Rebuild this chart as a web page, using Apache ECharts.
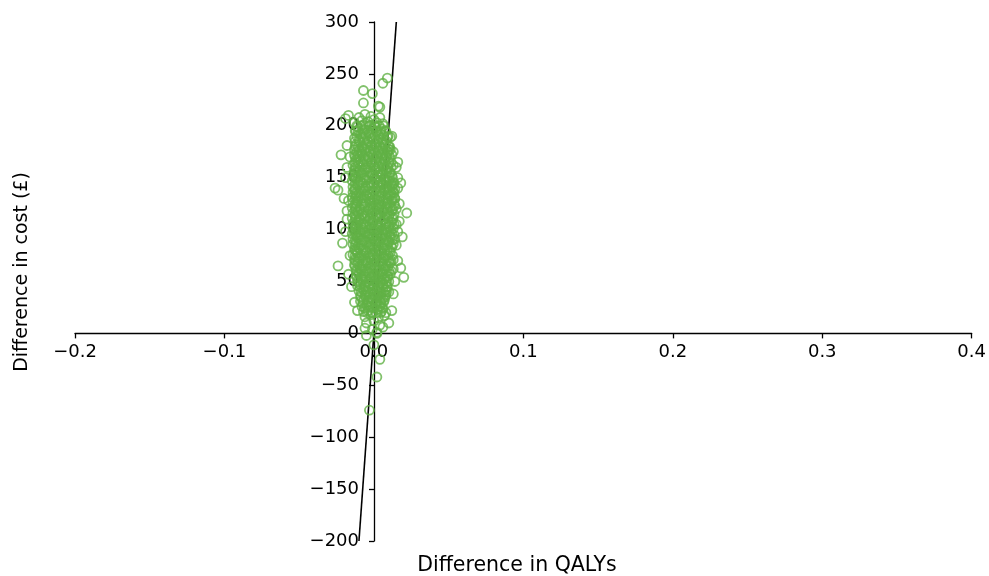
<!DOCTYPE html>
<html>
<head>
<meta charset="utf-8">
<script src="https://cdn.jsdelivr.net/npm/echarts@6/dist/echarts.min.js"></script>
<style>
html,body{margin:0;padding:0;background:#fff;}
#chart{width:989px;height:576px;}
</style>
</head>
<body>
<div id="chart"></div>
<script>
// Axis ticks
const xTicks = [-0.2, -0.1, 0.0, 0.1, 0.2, 0.3, 0.4];
const yTicks = [-200, -150, -100, -50, 0, 50, 100, 150, 200, 250, 300];
const xTitle = 'Difference in QALYs';
const yTitle = 'Difference in cost (£)';

// Willingness-to-pay threshold line endpoints [QALY difference, cost difference]
const thresholdLine = [[-0.01, -200], [0.015, 300]];

// Bootstrap replicates [QALY difference, cost difference]
const upperCloud = [
  [-0.013,203],[-0.010,208],[-0.008,205],[-0.006,211],[-0.004,204],[-0.002,209],[0.000,206],[0.002,203],[0.004,208],[0.006,202],
  [-0.011,199],[-0.007,201],[-0.003,200],[0.001,199],[0.005,197],
  [-0.012,195],[-0.009,192],[-0.006,196],[-0.003,193],[-0.001,197],[0.002,194],[0.005,192],[0.008,195],
  [-0.013,188],[-0.010,186],[-0.007,189],[-0.004,185],[-0.001,188],[0.003,187],[0.006,184],[0.009,189],
  [-0.012,182],[-0.008,180],[-0.005,183],[-0.002,181],[0.001,183],[0.004,180],[0.007,182],[0.010,180],
  [-0.013,177],[-0.010,176],[-0.006,178],[-0.003,175],[0.000,177],[0.003,176],[0.006,178],[0.009,175],[0.011,177],
  [-0.013,172],[-0.011,171],[-0.008,173],[-0.004,170],[-0.001,172],[0.002,171],[0.005,173],[0.008,170],[0.012,172],
  [-0.012,167],[-0.009,166],[-0.006,168],[-0.002,165],[0.001,167],[0.004,166],[0.007,168],[0.010,165],
  [-0.014,162],[-0.011,161],[-0.007,163],[-0.004,160],[0.000,162],[0.003,161],[0.006,163],[0.009,160],[0.013,162],
  [-0.013,157],[-0.010,156],[-0.006,158],[-0.003,155],[0.001,157],[0.004,156],[0.008,158],[0.011,155],
  [-0.014,152],[-0.012,151],[-0.008,153],[-0.005,150],[-0.001,152],[0.002,151],[0.005,153],[0.009,150],[0.012,152]
];
const middleCloud = [
  [-0.0145,147],[-0.012,149],[-0.009,146],[-0.005,148],[-0.002,145],[0.001,148],[0.004,146],[0.007,149],[0.010,147],[0.013,145],
  [-0.014,141],[-0.011,143],[-0.007,140],[-0.004,142],[0.000,144],[0.003,141],[0.006,143],[0.009,140],[0.012,142],[0.014,139],
  [-0.014,136],[-0.013,138],[-0.010,135],[-0.006,137],[-0.003,134],[0.000,137],[0.004,136],[0.007,138],[0.010,134],[0.013,136],
  [-0.0145,131],[-0.012,132],[-0.008,130],[-0.005,133],[-0.001,131],[0.002,129],[0.005,132],[0.008,130],[0.011,133],[0.014,130],
  [-0.014,126],[-0.011,127],[-0.007,125],[-0.003,128],[0.000,126],[0.003,124],[0.006,127],[0.009,125],[0.012,128],
  [-0.0145,121],[-0.012,122],[-0.009,120],[-0.006,123],[-0.002,121],[0.001,119],[0.004,122],[0.007,120],[0.011,121],[0.014,123],
  [-0.014,116],[-0.011,117],[-0.008,115],[-0.004,118],[-0.001,116],[0.002,114],[0.006,117],[0.009,115],[0.012,118],
  [-0.0145,111],[-0.012,112],[-0.010,110],[-0.006,113],[-0.003,111],[0.000,109],[0.004,112],[0.007,110],[0.010,113],[0.013,111],
  [-0.014,106],[-0.011,107],[-0.007,105],[-0.004,108],[-0.001,106],[0.003,104],[0.005,107],[0.008,105],[0.012,107],[0.015,105],
  [-0.014,101],[-0.012,102],[-0.009,100],[-0.005,103],[-0.002,101],[0.001,99],[0.004,102],[0.007,100],[0.010,103],[0.013,101]
];
const lowerCloud = [
  [-0.0145,96],[-0.012,97],[-0.010,95],[-0.006,98],[-0.003,96],[0.000,94],[0.003,97],[0.006,95],[0.009,98],[0.012,96],
  [-0.014,91],[-0.011,92],[-0.008,90],[-0.004,93],[-0.001,91],[0.002,89],[0.005,92],[0.008,90],[0.011,93],[0.014,91],
  [-0.014,86],[-0.012,87],[-0.009,85],[-0.005,88],[-0.002,86],[0.001,84],[0.004,87],[0.007,85],[0.010,88],[0.013,86],
  [-0.013,81],[-0.010,82],[-0.007,80],[-0.003,83],[0.000,81],[0.003,79],[0.006,82],[0.009,80],[0.012,83],
  [-0.014,76],[-0.011,77],[-0.008,75],[-0.005,78],[-0.001,76],[0.002,74],[0.005,77],[0.008,75],[0.011,78],
  [-0.013,71],[-0.010,72],[-0.006,70],[-0.003,73],[0.000,71],[0.004,69],[0.007,72],[0.010,70],[0.013,71],
  [-0.013,66],[-0.011,67],[-0.008,65],[-0.004,68],[-0.001,66],[0.002,64],[0.005,67],[0.008,65],[0.011,68],
  [-0.012,61],[-0.009,62],[-0.006,60],[-0.002,63],[0.001,61],[0.004,59],[0.007,62],[0.010,60],[0.013,62]
];
const bottomCloud = [
  [-0.012,56],[-0.010,57],[-0.007,55],[-0.003,58],[0.000,56],[0.003,54],[0.006,57],[0.009,55],[0.011,57],
  [-0.011,51],[-0.008,52],[-0.005,50],[-0.002,53],[0.001,51],[0.004,49],[0.007,52],[0.010,50],
  [-0.011,46],[-0.009,47],[-0.006,45],[-0.003,48],[0.000,46],[0.003,44],[0.006,47],[0.009,45],
  [-0.010,41],[-0.007,42],[-0.004,40],[-0.001,43],[0.002,41],[0.005,39],[0.008,42],[0.010,40],
  [-0.009,36],[-0.006,37],[-0.003,35],[0.000,38],[0.003,36],[0.006,34],[0.008,37],
  [-0.009,31],[-0.007,32],[-0.004,30],[-0.001,33],[0.002,31],[0.005,29],[0.007,32],
  [-0.008,26],[-0.005,27],[-0.002,25],[0.001,28],[0.004,26],[0.006,24],
  [-0.007,21],[-0.004,22],[-0.001,20],[0.002,23],[0.005,21],[0.008,20],
  [-0.006,16],[-0.002,18],[0.003,15],[0.007,17],[-0.005,10],[0.000,12],[0.004,8],[0.010,10],
  [-0.006,5],[-0.001,4],[0.002,1],[0.006,6]
];
const fillUpper = [
  [-0.0115,200],[-0.0085,200],[-0.0055,200],[-0.0025,200],[0.0005,200],[0.0035,200],[0.0065,200],
  [-0.0125,195],[-0.0105,195],[-0.0075,195],[-0.0045,195],[-0.0015,195],[0.0015,195],[0.0045,195],[0.0075,195],
  [-0.0115,190],[-0.0085,190],[-0.0055,190],[-0.0025,190],[0.0005,190],[0.0035,190],[0.0065,190],[0.0095,190],
  [-0.0125,185],[-0.0095,185],[-0.0065,185],[-0.0035,185],[-0.0005,185],[0.0025,185],[0.0055,185],[0.0085,185],
  [-0.0125,180],[-0.0105,180],[-0.0075,180],[-0.0045,180],[-0.0015,180],[0.0015,180],[0.0045,180],[0.0075,180],[0.0105,180],
  [-0.0115,175],[-0.0085,175],[-0.0055,175],[-0.0025,175],[0.0005,175],[0.0035,175],[0.0065,175],[0.0095,175],
  [-0.0125,170],[-0.0095,170],[-0.0065,170],[-0.0035,170],[-0.0005,170],[0.0025,170],[0.0055,170],[0.0085,170],[0.0105,170],
  [-0.0125,165],[-0.0105,165],[-0.0075,165],[-0.0045,165],[-0.0015,165],[0.0015,165],[0.0045,165],[0.0075,165],[0.0115,165],
  [-0.0125,160],[-0.0095,160],[-0.0055,160],[-0.0025,160],[0.0005,160],[0.0035,160],[0.0065,160],[0.0095,160],[0.0115,160],
  [-0.0125,155],[-0.0115,155],[-0.0085,155],[-0.0045,155],[-0.0015,155],[0.0025,155],[0.0055,155],[0.0085,155],[0.0105,155],
  [-0.0125,150],[-0.0105,150],[-0.0065,150],[-0.0035,150],[0.0005,150],[0.0035,150],[0.0075,150],[0.0105,150],[0.0125,150]
];
const fillMiddle = [
  [-0.0125,145],[-0.0105,145],[-0.0075,145],[-0.0035,145],[-0.0005,145],[0.0025,145],[0.0055,145],[0.0085,145],[0.0115,145],[0.0135,145],
  [-0.0125,140],[-0.0095,140],[-0.0055,140],[-0.0025,140],[0.0015,140],[0.0045,140],[0.0075,140],[0.0105,140],[0.0125,140],
  [-0.0125,135],[-0.0115,135],[-0.0085,135],[-0.0045,135],[-0.0015,135],[0.0015,135],[0.0055,135],[0.0085,135],[0.0115,135],[0.0135,135],
  [-0.0125,130],[-0.0105,130],[-0.0065,130],[-0.0035,130],[0.0005,130],[0.0035,130],[0.0065,130],[0.0095,130],[0.0125,130],
  [-0.0125,125],[-0.0115,125],[-0.0085,125],[-0.0055,125],[-0.0015,125],[0.0015,125],[0.0045,125],[0.0075,125],[0.0105,125],[0.0135,125],
  [-0.0125,120],[-0.0095,120],[-0.0065,120],[-0.0035,120],[-0.0005,120],[0.0025,120],[0.0055,120],[0.0085,120],[0.0125,120],
  [-0.0125,115],[-0.0105,115],[-0.0075,115],[-0.0045,115],[-0.0015,115],[0.0015,115],[0.0045,115],[0.0075,115],[0.0105,115],[0.0135,115],
  [-0.0125,110],[-0.0095,110],[-0.0065,110],[-0.0025,110],[0.0005,110],[0.0035,110],[0.0065,110],[0.0095,110],[0.0125,110],
  [-0.0125,105],[-0.0115,105],[-0.0085,105],[-0.0055,105],[-0.0025,105],[0.0015,105],[0.0045,105],[0.0075,105],[0.0105,105],[0.0135,105],
  [-0.0125,100],[-0.0105,100],[-0.0075,100],[-0.0035,100],[-0.0005,100],[0.0025,100],[0.0055,100],[0.0085,100],[0.0115,100]
];
const fillLower = [
  [-0.0125,95],[-0.0115,95],[-0.0085,95],[-0.0045,95],[-0.0015,95],[0.0015,95],[0.0045,95],[0.0075,95],[0.0105,95],[0.0135,95],
  [-0.0125,90],[-0.0095,90],[-0.0065,90],[-0.0025,90],[0.0005,90],[0.0035,90],[0.0065,90],[0.0095,90],[0.0125,90],
  [-0.0125,85],[-0.0105,85],[-0.0075,85],[-0.0035,85],[-0.0005,85],[0.0025,85],[0.0055,85],[0.0085,85],[0.0115,85],
  [-0.0125,80],[-0.0115,80],[-0.0085,80],[-0.0055,80],[-0.0015,80],[0.0015,80],[0.0045,80],[0.0075,80],[0.0105,80],
  [-0.0125,75],[-0.0095,75],[-0.0065,75],[-0.0035,75],[-0.0005,75],[0.0035,75],[0.0065,75],[0.0095,75],[0.0125,75],
  [-0.0125,70],[-0.0105,70],[-0.0075,70],[-0.0045,70],[-0.0015,70],[0.0015,70],[0.0055,70],[0.0085,70],[0.0115,70],
  [-0.0125,65],[-0.0095,65],[-0.0055,65],[-0.0025,65],[0.0005,65],[0.0035,65],[0.0065,65],[0.0095,65],
  [-0.0115,60],[-0.0085,60],[-0.0045,60],[-0.0015,60],[0.0025,60],[0.0055,60],[0.0085,60],[0.0115,60],
  [-0.0115,55],[-0.0085,55],[-0.0055,55],[-0.0025,55],[0.0015,55],[0.0045,55],[0.0075,55],[0.0095,55],
  [-0.0105,50],[-0.0075,50],[-0.0035,50],[-0.0005,50],[0.0025,50],[0.0055,50],[0.0085,50],
  [-0.0095,45],[-0.0065,45],[-0.0035,45],[-0.0005,45],[0.0035,45],[0.0065,45],[0.0085,45],
  [-0.0085,40],[-0.0055,40],[-0.0025,40],[0.0005,40],[0.0035,40],[0.0065,40],[0.0085,40],
  [-0.0085,35],[-0.0055,35],[-0.0015,35],[0.0015,35],[0.0045,35],[0.0075,35],
  [-0.0075,30],[-0.0045,30],[-0.0015,30],[0.0015,30],[0.0045,30],[0.0065,30],
  [-0.0065,25],[-0.0035,25],[-0.0005,25],[0.0025,25],[0.0055,25],
  [-0.0045,20],[-0.0015,20],[0.0015,20],[0.0045,20]
];
const edgePoints = [
  [-0.018,160],[-0.019,150],[-0.017,128],[-0.018,110],[-0.019,98],[-0.016,75],[-0.017,57],[-0.015,45],
  [-0.013,30],[-0.018,118],[-0.020,130],[-0.016,170],
  [0.015,160],[0.016,150],[0.017,108],[0.016,98],[0.015,85],[0.016,70],[0.018,63],[0.014,50],
  [0.013,38],[0.015,120],[0.014,130],[0.016,165],[0.013,175]
];
const outliers = [
  [0.009,246],[0.006,241],[-0.007,234],[-0.001,231],[-0.007,222],[0.004,218],[0.003,219],[-0.019,207],
  [-0.017,210],[0.011,189],[0.012,190],[0.010,177],[-0.022,172],[-0.018,181],[-0.026,140],[-0.024,138],
  [0.018,145],[0.016,140],[0.017,125],[0.022,116],[-0.021,87],[0.019,93],[-0.024,65],[0.020,54],
  [-0.011,22],[0.012,22],[-0.005,-2],[0.002,0],[0.000,-11],[0.004,-25],[0.002,-42],[-0.003,-74]
];

const scatterData = [].concat(upperCloud, middleCloud, lowerCloud, bottomCloud,
  fillUpper, fillMiddle, fillLower, edgePoints, outliers);

const FONT = '"DejaVu Sans"';
const minus = s => s.replace('-', '\u2212');

// Layout of the plotting area
const G = {left: 75, right: 17, top: 22, bottom: 35, width: 989, height: 576};
const plotW = G.width - G.left - G.right;
const plotH = G.height - G.top - G.bottom;
const xMin = xTicks[0], xMax = xTicks[xTicks.length - 1];
const yMin = yTicks[0], yMax = yTicks[yTicks.length - 1];
// shift axes so they cross at the origin
const xAxisOffset = -plotH * (0 - yMin) / (yMax - yMin);
const yAxisOffset = -plotW * (0 - xMin) / (xMax - xMin);

const chart = echarts.init(document.getElementById('chart'), null, {renderer: 'canvas'});
chart.setOption({
  animation: false,
  backgroundColor: '#fff',
  grid: {left: G.left, right: G.right, top: G.top, bottom: G.bottom, containLabel: false},
  xAxis: {
    type: 'value', position: 'bottom', offset: xAxisOffset,
    min: xMin, max: xMax, interval: 0.1,
    axisLine: {onZero: false, lineStyle: {color: '#000', width: 1.3}},
    axisTick: {show: true, length: 5, lineStyle: {color: '#000', width: 1.3}},
    axisLabel: {
      margin: 10, fontSize: 18, color: '#000', fontFamily: FONT,
      formatter: v => Math.abs(v) < 1e-9 ? '0.0' : minus(v.toFixed(1))
    },
    splitLine: {show: false}
  },
  yAxis: {
    type: 'value', position: 'left', offset: yAxisOffset,
    min: yMin, max: yMax, interval: 50,
    axisLine: {onZero: false, lineStyle: {color: '#000', width: 1.3}},
    axisTick: {show: true, length: 5, lineStyle: {color: '#000', width: 1.3}},
    axisLabel: {
      margin: 15, fontSize: 18, color: '#000', fontFamily: FONT,
      formatter: v => minus(String(v))
    },
    splitLine: {show: false}
  },
  graphic: [
    {type: 'text', x: 517, y: 566, style: {text: xTitle, fill: '#000', font: '20.5px "DejaVu Sans"', textAlign: 'center', textVerticalAlign: 'middle'}},
    {type: 'text', x: 22, y: 272, rotation: Math.PI / 2, style: {text: yTitle, fill: '#000', font: '19px "DejaVu Sans"', textAlign: 'center', textVerticalAlign: 'middle'}}
  ],
  series: [
    {
      type: 'line', data: thresholdLine, z: 1, symbol: 'none',
      lineStyle: {color: '#000', width: 1.6}, silent: true
    },
    {
      type: 'scatter', data: scatterData, z: 2, symbol: 'circle', symbolSize: 9,
      itemStyle: {color: 'rgba(0,0,0,0)', borderColor: '#62b146', borderWidth: 1.8}
    }
  ]
});
</script>
</body>
</html>
